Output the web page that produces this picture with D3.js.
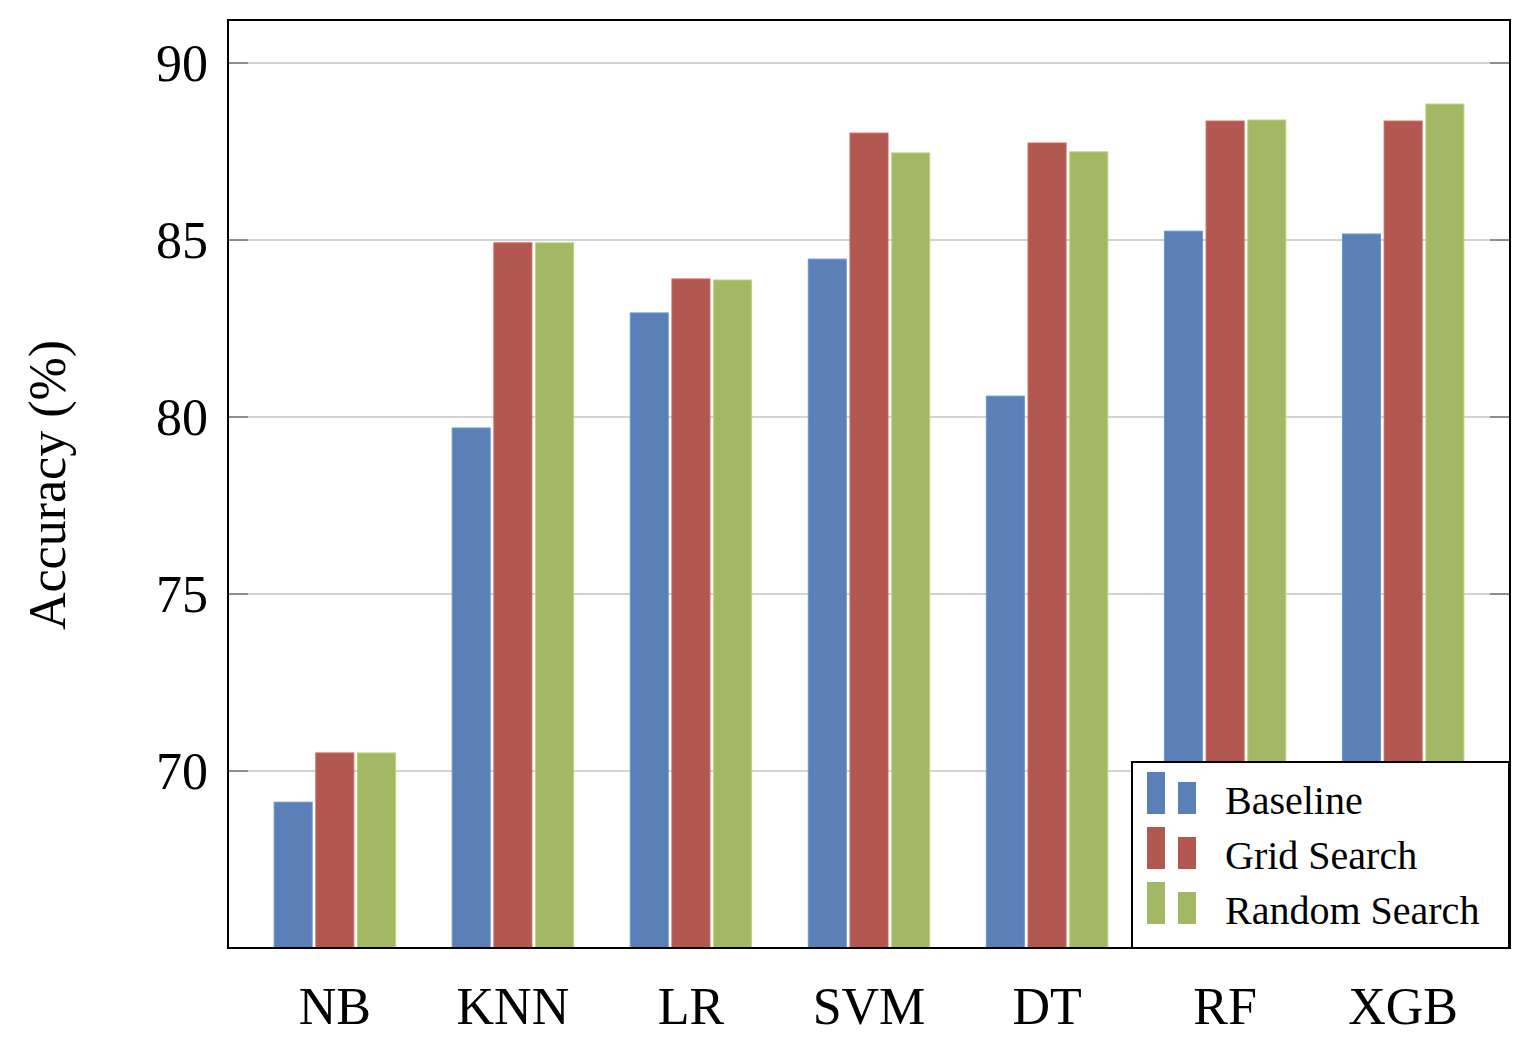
<!DOCTYPE html>
<html>
<head>
<meta charset="utf-8">
<script src="https://cdn.jsdelivr.net/npm/d3@7"></script>
<style>
  html, body { margin: 0; padding: 0; background: #fff; }
  text { font-family: "Liberation Serif", "Times New Roman", serif; fill: #000; }
</style>
</head>
<body>
<svg id="chart" width="1526" height="1042"></svg>
<script>
'use strict';

const categories = ['NB', 'KNN', 'LR', 'SVM', 'DT', 'RF', 'XGB'];
const seriesNames = ['Baseline', 'Grid Search', 'Random Search'];
const baseline = [69.12, 79.69, 82.94, 84.46, 80.59, 85.25, 85.17];
const gridSearch = [70.51, 84.92, 83.90, 88.02, 87.74, 88.36, 88.36];
const randomSearch = [70.51, 84.92, 83.87, 87.46, 87.49, 88.39, 88.84];
const yTicks = [70, 75, 80, 85, 90];
const colors = ['#5b80b8', '#b35851', '#a3b864'];

const series = [baseline, gridSearch, randomSearch];

const margin = {left: 228, top: 20, right: 16, bottom: 94};
const width = 1526 - margin.left - margin.right;
const height = 1042 - margin.top - margin.bottom;

const svg = d3.select('#chart');
const g = svg.append('g').attr('transform', `translate(${margin.left},${margin.top})`);

const x = d3.scalePoint().domain(categories).range([0, width]).padding(0.6);
const y = d3.scaleLinear().domain([65, 91.215]).range([height, 0]);
const barWidth = 38;
const barStep = 41.7;

g.append('defs').append('clipPath').attr('id', 'plotClip')
  .append('rect').attr('width', width).attr('height', height);

// grid
g.append('g')
  .selectAll('line')
  .data(yTicks)
  .join('line')
  .attr('x1', 0).attr('x2', width)
  .attr('y1', d => y(d)).attr('y2', d => y(d))
  .attr('stroke', '#c4c4c4')
  .attr('stroke-width', 1.5);

// tick marks (inside, both sides)
const tickG = g.append('g');
tickG.selectAll('line.l').data(yTicks).join('line').attr('class', 'l')
  .attr('x1', 0).attr('x2', 20).attr('y1', d => y(d)).attr('y2', d => y(d))
  .attr('stroke', '#777').attr('stroke-width', 1.5);
tickG.selectAll('line.r').data(yTicks).join('line').attr('class', 'r')
  .attr('x1', width - 20).attr('x2', width).attr('y1', d => y(d)).attr('y2', d => y(d))
  .attr('stroke', '#777').attr('stroke-width', 1.5);

// bars
const bars = g.append('g').attr('clip-path', 'url(#plotClip)');
series.forEach((values, si) => {
  bars.append('g')
    .selectAll('rect')
    .data(values.map((v, i) => ({cat: categories[i], value: v})))
    .join('rect')
    .attr('x', d => x(d.cat) + (si - 1) * barStep - barWidth / 2)
    .attr('y', d => y(d.value))
    .attr('width', barWidth)
    .attr('height', d => height - y(d.value))
    .attr('fill', colors[si])
    .attr('stroke', d3.color(colors[si]).brighter(0.4))
    .attr('stroke-width', 1);
});

// frame
g.append('rect')
  .attr('width', width).attr('height', height)
  .attr('fill', 'none').attr('stroke', '#000').attr('stroke-width', 2);

// y tick labels
g.append('g')
  .selectAll('text')
  .data(yTicks)
  .join('text')
  .attr('x', -20)
  .attr('y', d => y(d))
  .attr('dy', '0.35em')
  .attr('text-anchor', 'end')
  .style('font-size', '52px')
  .text(d => d);

// x tick labels
g.append('g')
  .selectAll('text')
  .data(categories)
  .join('text')
  .attr('x', d => x(d))
  .attr('y', height + 76)
  .attr('text-anchor', 'middle')
  .style('font-size', '52px')
  .text(d => d);

// y axis label
svg.append('text')
  .attr('transform', 'translate(65,485) rotate(-90)')
  .attr('text-anchor', 'middle')
  .style('font-size', '52px')
  .text('Accuracy (%)');

// legend
const legend = svg.append('g').attr('transform', 'translate(1132,762)');
legend.append('rect')
  .attr('width', 377).attr('height', 186)
  .attr('fill', '#fff').attr('stroke', '#000').attr('stroke-width', 2);

const entry = legend.selectAll('g.entry')
  .data(seriesNames)
  .join('g')
  .attr('class', 'entry')
  .attr('transform', (d, i) => `translate(0,${52 + i * 55})`);

entry.append('rect')
  .attr('x', 15).attr('y', -42).attr('width', 18).attr('height', 42)
  .attr('fill', (d, i) => colors[i]);
entry.append('rect')
  .attr('x', 46).attr('y', -32).attr('width', 18).attr('height', 32)
  .attr('fill', (d, i) => colors[i]);
entry.append('text')
  .attr('x', 93).attr('y', 0)
  .style('font-size', '40px')
  .text(d => d);
</script>
</body>
</html>
